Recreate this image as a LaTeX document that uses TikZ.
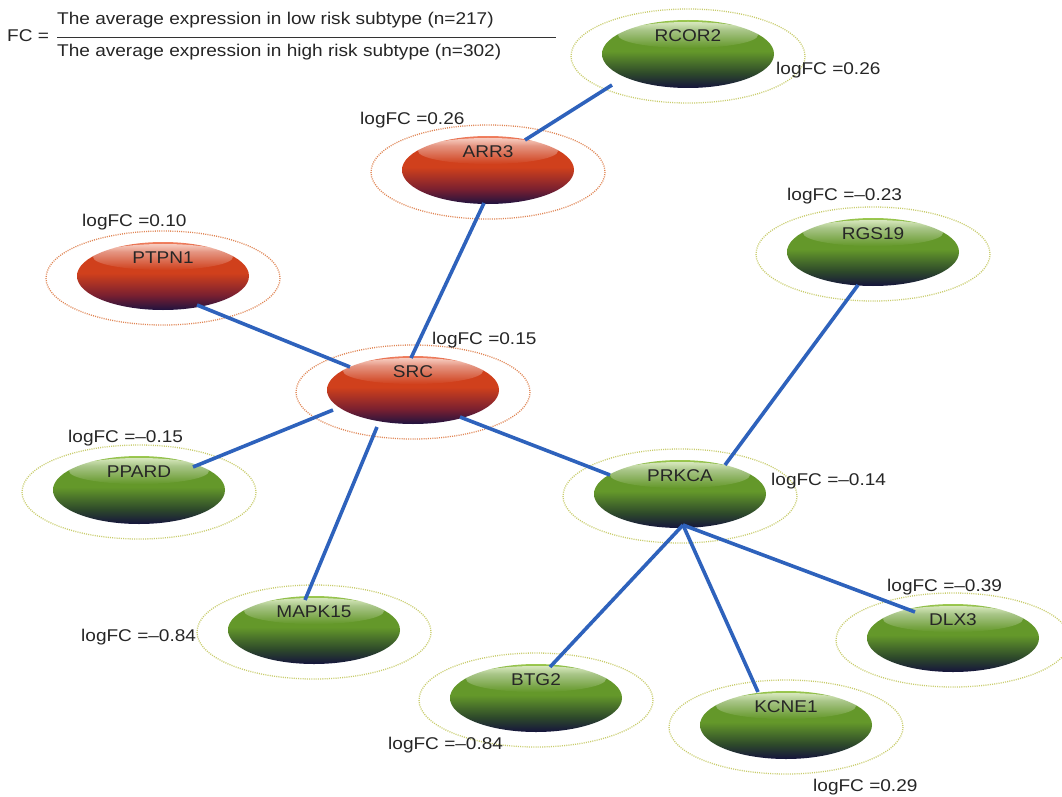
\documentclass[tikz,border=0pt]{standalone}
\usepackage{fontspec}
\setmainfont{Liberation Sans}[FakeStretch=1.12]
\usetikzlibrary{shapes.geometric,fadings}
\definecolor{rtop}{HTML}{F08060}
\definecolor{rmid}{HTML}{D0401C}
\definecolor{rdark}{HTML}{7A2030}
\definecolor{rbot}{HTML}{20123F}
\definecolor{gtop}{HTML}{9CC850}
\definecolor{gmid}{HTML}{64982A}
\definecolor{gdark}{HTML}{2E4A2A}
\definecolor{gbot}{HTML}{15143C}
\definecolor{edgeblue}{HTML}{2E62BC}
\definecolor{redring}{HTML}{E08452}
\definecolor{greenring}{HTML}{C8CC6A}
\pgfdeclareverticalshading{redball}{100bp}{color(0bp)=(rbot); color(25bp)=(rbot); color(36bp)=(rdark); color(52bp)=(rmid); color(68bp)=(rmid); color(75bp)=(rtop); color(100bp)=(rtop)}
\pgfdeclareverticalshading{greenball}{100bp}{color(0bp)=(gbot); color(25bp)=(gbot); color(36bp)=(gdark); color(52bp)=(gmid); color(68bp)=(gmid); color(75bp)=(gtop); color(100bp)=(gtop)}
\tikzfading[name=hlfade, top color=transparent!15, bottom color=transparent!100]
\tikzset{
  body/.style={ellipse, draw=none, inner sep=0pt, minimum width=172pt, minimum height=68pt},
  redring/.style={draw=redring, line width=1.3pt, dash pattern=on 1pt off 1.2pt},
  greenring/.style={draw=greenring, line width=1.3pt, dash pattern=on 1pt off 1.2pt},
  gtext/.style={text=black!85, inner sep=0pt, font=\fontsize{17}{20}\selectfont},
  lbl/.style={anchor=west, inner sep=0pt, text=black!85, font=\fontsize{17}{20}\selectfont},
  link/.style={draw=edgeblue, line width=3.6pt},
}
\newcommand{\genenode}[4]{%
  \draw[#4ring] (#2,#3+2) ellipse [x radius=117, y radius=47];
  \node[body, shading=#4ball] (#1) at (#2,#3) {};
  \fill[white, path fading=hlfade, fill opacity=.75] (#2,#3-19) ellipse [x radius=70, y radius=13];
  \node[gtext] (#1-t) at (#2,#3-18) {#1};
}
\begin{document}
\begin{tikzpicture}[x=1pt,y=-1pt]
\useasboundingbox[fill=white] (0,0) rectangle (1062,797);
% formula
\node[lbl] (fc) at (7,36) {FC =};
\node[lbl] (num) at (57,20) {The average expression in low risk subtype (n=217)};
\node[lbl] (den) at (57,52) {The average expression in high risk subtype (n=302)};
\draw[black!80, line width=0.9pt] (57,37) -- (556,37);
% genes
\genenode{RCOR2}{688}{54}{green}
\genenode{ARR3}{488}{170}{red}
\genenode{PTPN1}{163}{276}{red}
\genenode{SRC}{413}{390}{red}
\genenode{RGS19}{873}{252}{green}
\genenode{PPARD}{139}{490}{green}
\genenode{PRKCA}{680}{494}{green}
\genenode{MAPK15}{314}{630}{green}
\genenode{DLX3}{953}{638}{green}
\genenode{BTG2}{536}{698}{green}
\genenode{KCNE1}{786}{725}{green}
% links
\draw[link] ([shift={(37,-30)}]ARR3.center) -- ([shift={(-76,31)}]RCOR2.center);
\draw[link] ([shift={(-4,33)}]ARR3.center) -- ([shift={(-2,-32)}]SRC.center);
\draw[link] ([shift={(34,29)}]PTPN1.center) -- ([shift={(-63,-23)}]SRC.center);
\draw[link] ([shift={(-80,20)}]SRC.center) -- ([shift={(54,-23)}]PPARD.center);
\draw[link] ([shift={(-36,37)}]SRC.center) -- ([shift={(-9,-30)}]MAPK15.center);
\draw[link] ([shift={(47,27)}]SRC.center) -- ([shift={(-70,-19)}]PRKCA.center);
\draw[link] ([shift={(-15,33)}]RGS19.center) -- ([shift={(45,-29)}]PRKCA.center);
\draw[link] ([shift={(3,31)}]PRKCA.center) -- ([shift={(14,-31)}]BTG2.center);
\draw[link] ([shift={(3,31)}]PRKCA.center) -- ([shift={(-28,-33)}]KCNE1.center);
\draw[link] ([shift={(3,31)}]PRKCA.center) -- ([shift={(-38,-26)}]DLX3.center);
% labels
\node[lbl] (l-RCOR2) at (776,70) {logFC =0.26};
\node[lbl] (l-ARR3) at (360,120) {logFC =0.26};
\node[lbl] (l-PTPN1) at (82,222) {logFC =0.10};
\node[lbl] (l-RGS19) at (787,196) {logFC =–0.23};
\node[lbl] (l-SRC) at (432,340) {logFC =0.15};
\node[lbl] (l-PPARD) at (68,438) {logFC =–0.15};
\node[lbl] (l-PRKCA) at (771,481) {logFC =–0.14};
\node[lbl] (l-MAPK15) at (81,637) {logFC =–0.84};
\node[lbl] (l-DLX3) at (887,587) {logFC =–0.39};
\node[lbl] (l-BTG2) at (388,745) {logFC =–0.84};
\node[lbl] (l-KCNE1) at (813,787) {logFC =0.29};
\end{tikzpicture}
\end{document}
